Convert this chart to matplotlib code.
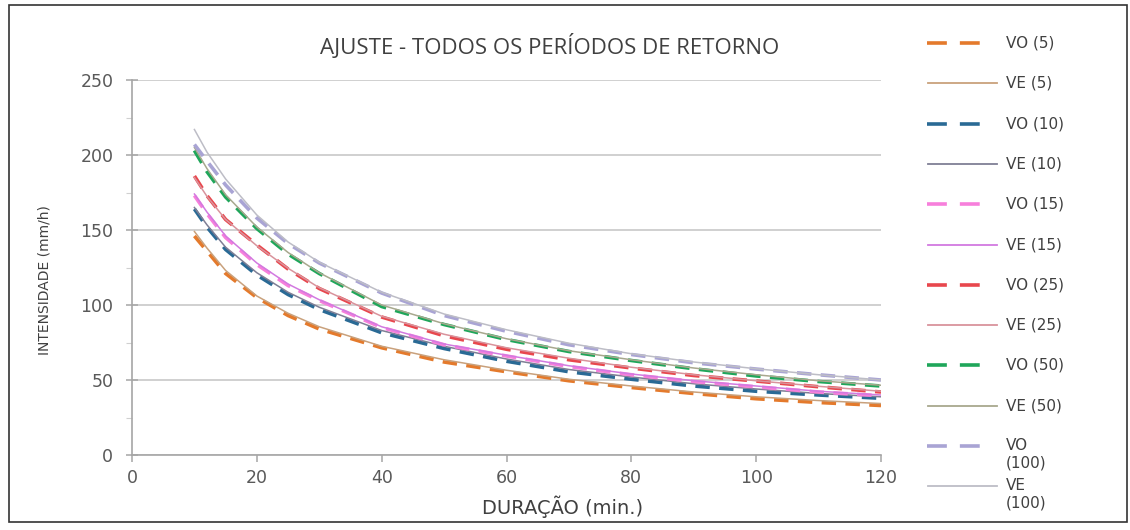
import matplotlib
matplotlib.use("Agg")
import matplotlib.pyplot as plt
from matplotlib.lines import Line2D
from matplotlib.patches import Rectangle
from matplotlib.ticker import MultipleLocator

# durations (min) and intensities (mm/h)
duracao = [10, 12, 15, 20, 25, 30, 40, 50, 60, 70, 80, 90, 100, 110, 120]

vo5 = [146, 136, 121, 105, 93, 84, 71.5, 62, 55.5, 49.5, 45, 41, 37.5, 35, 33]
ve5 = [149, 138, 123, 106, 94.5, 85.5, 72.5, 63.5, 56.5, 50.5, 46, 42, 38.8, 36.3, 34.3]
vo10 = [164, 152, 137, 120, 107, 97, 81.5, 71, 62.5, 55.5, 50.5, 46, 42.5, 40, 37.8]
ve10 = [165, 153.5, 138.5, 121.5, 108.5, 98.5, 83, 72.5, 64, 57, 52, 47.5, 44, 41, 38.8]
vo15 = [173, 161, 145, 127, 113, 103, 85, 73.5, 66, 59, 53.5, 49, 45.5, 42, 39.5]
ve15 = [174, 162, 146, 128, 114, 103.5, 85.5, 74, 66.5, 59.5, 54, 49.5, 46, 42.5, 40]
vo25 = [186, 173, 157, 140, 124, 111, 92, 79.5, 70.5, 63.5, 58, 53, 49.3, 45.5, 42]
ve25 = [185, 172.5, 157, 139.5, 124.5, 111.5, 92.5, 80.5, 71.5, 64.5, 58.5, 53.5, 49.5, 45.8, 42.5]
vo50 = [203, 189, 172, 151, 134, 121, 99, 87, 77, 69, 63, 57.5, 52.7, 49, 46]
ve50 = [205, 191, 173.5, 152, 135, 121.5, 100, 87.5, 77.5, 69.5, 63.5, 58, 53.5, 49.5, 46.5]
vo100 = [207, 196, 180, 158, 141, 128, 108, 93, 82.5, 73.5, 67, 61.5, 57.3, 53.5, 50]
ve100 = [217, 202, 184, 160, 142, 128.5, 108.5, 94, 83.5, 74.5, 67.5, 62, 57.5, 53.5, 50]

series = [vo5, ve5, vo10, ve10, vo15, ve15, vo25, ve25, vo50, ve50, vo100, ve100]
labels = ["VO (5)", "VE (5)", "VO (10)", "VE (10)", "VO (15)", "VE (15)",
          "VO (25)", "VE (25)", "VO (50)", "VE (50)", "VO\n(100)", "VE\n(100)"]
colors = ["#E47A2C", "#C9A17C", "#2A6A95", "#7F7F95", "#F77FDB", "#D27AE0",
          "#E8474D", "#D9939C", "#1FA65A", "#A8A88E", "#A9A4D4", "#BDBDC6"]

W, H = 1130, 530
fig = plt.figure(figsize=(W / 100, H / 100), dpi=100)
ax = fig.add_axes([132 / W, 1 - 455 / H, (881 - 132) / W, 375 / H])

for vals, lab, col in zip(series, labels, colors):
    if lab.startswith("VO"):
        ax.plot(duracao, vals, color=col, lw=2.6, dashes=(4, 2.6), label=lab)
    else:
        ax.plot(duracao, vals, color=col, lw=1.1, label=lab)

ax.set_xlim(0, 120)
ax.set_ylim(0, 250)
ax.xaxis.set_major_locator(MultipleLocator(20))
ax.yaxis.set_major_locator(MultipleLocator(50))
ax.yaxis.set_minor_locator(MultipleLocator(25))
ax.grid(axis="y", which="major", color="#C8C8C8", lw=1.2)
ax.set_axisbelow(True)
for s in ["top", "right"]:
    ax.spines[s].set_visible(False)
for s in ["left", "bottom"]:
    ax.spines[s].set_color("#A6A6A6")
    ax.spines[s].set_linewidth(1.2)
ax.tick_params(axis="y", which="major", direction="inout", length=9, width=1.1,
               color="#A6A6A6", pad=9, labelsize=12.5, labelcolor="#595959")
ax.tick_params(axis="y", which="minor", direction="out", length=4, width=0.8,
               color="#D0D0D0")
ax.tick_params(axis="x", which="major", direction="out", length=5, width=1.1,
               color="#A6A6A6", pad=5, labelsize=12.5, labelcolor="#595959")

fig.text(550 / W, 1 - 46 / H, "AJUSTE - TODOS OS PERÍODOS DE RETORNO",
         ha="center", va="center", fontsize=16, color="#404040",
         family=["Open Sans", "DejaVu Sans"])
fig.text(563 / W, 1 - 507 / H, "DURAÇÃO (min.)", ha="center", va="center",
         fontsize=14, color="#404040", family=["DejaVu Sans"])
fig.text(45 / W, 1 - 280 / H, "INTENSIDADE (mm/h)", ha="center", va="center",
         rotation=90, fontsize=10, color="#404040",
         family=["Liberation Sans Narrow", "DejaVu Sans"])

# legend drawn by hand on the right
for i, (lab, col) in enumerate(zip(labels, colors)):
    yc = 1 - (43 + 40.3 * i) / H
    if lab.startswith("VO"):
        ln = Line2D([927 / W, 982 / W], [yc, yc], color=col, lw=2.6,
                    dashes=(5.5, 3.6), transform=fig.transFigure)
    else:
        ln = Line2D([928 / W, 997 / W], [yc, yc], color=col, lw=1.3,
                    transform=fig.transFigure)
    fig.add_artist(ln)
    if "\n" in lab:
        fig.text(1006 / W, yc + 8 / H, lab, ha="left", va="top", fontsize=11,
                 color="#404040", linespacing=1.2)
    else:
        fig.text(1006 / W, yc, lab, ha="left", va="center", fontsize=11,
                 color="#404040")

fig.add_artist(Rectangle((9 / W, 8 / H), (W - 12) / W, (H - 13) / H, fill=False,
                         edgecolor="#333333", lw=1.2, transform=fig.transFigure))

fig.savefig("out.png", dpi=100)
